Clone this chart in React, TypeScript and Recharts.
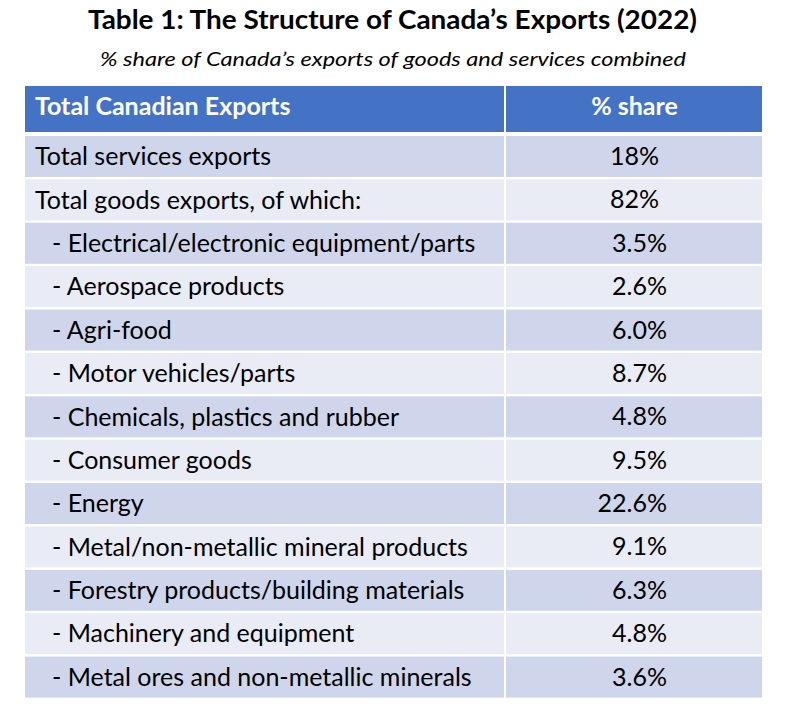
import { BarChart, Bar, XAxis, YAxis, LabelList } from "recharts";

const rowLabels = [
  "Total services exports",
  "Total goods exports, of which:",
  "- Electrical/electronic equipment/parts",
  "- Aerospace products",
  "- Agri-food",
  "- Motor vehicles/parts",
  "- Chemicals, plastics and rubber",
  "- Consumer goods",
  "- Energy",
  "- Metal/non-metallic mineral products",
  "- Forestry products/building materials",
  "- Machinery and equipment",
  "- Metal ores and non-metallic minerals"
];

const shares = [18, 82, 3.5, 2.6, 6.0, 8.7, 4.8, 9.5, 22.6, 9.1, 6.3, 4.8, 3.6];

const shareLabels = [
  "18%", "82%", "3.5%", "2.6%", "6.0%", "8.7%", "4.8%",
  "9.5%", "22.6%", "9.1%", "6.3%", "4.8%", "3.6%"
];

const data = rowLabels.map((label, i) => ({
  label,
  share: shares[i],
  shareLabel: shareLabels[i]
}));

const FONT = "Lato, 'Open Sans', sans-serif";
const HEAD = "#4472C4";
const ODD = "#CFD5EA";
const EVEN = "#E9EBF5";
const TABLE_LEFT = 25;

// row fill for both cells, the white gap at the plot's left edge is the column divider
const RowBackground = (p: any) => {
  const fill = p.index % 2 === 0 ? ODD : EVEN;
  const top = p.y + 1;
  const h = p.height - 2;
  return (
    <g>
      <rect x={TABLE_LEFT} y={top} width={p.x - 2 - TABLE_LEFT} height={h} fill={fill} />
      <rect x={p.x} y={top} width={p.width} height={h} fill={fill} />
    </g>
  );
};

const RowLabel = (p: any) => {
  const text: string = p.payload.value;
  return (
    <text
      x={text.startsWith("-") ? 52 : 35}
      y={p.y}
      dy={8.5}
      fontSize={25}
      fontFamily={FONT}
      fill="#000"
    >
      {text}
    </text>
  );
};

const ShareLabel = (p: any) => {
  const text = String(p.value);
  const hasDecimal = text.includes(".");
  return (
    <text
      x={hasDecimal ? 667 : 634.5}
      y={p.y + p.height / 2}
      dy={8.5}
      textAnchor={hasDecimal ? "end" : "middle"}
      fontSize={25}
      fontFamily={FONT}
      fill="#000"
    >
      {text}
    </text>
  );
};

export default function App() {
  return (
    <div style={{ position: "absolute", left: 0, top: 0, width: 788, height: 716, background: "#fff" }}>
      <svg
        width={788}
        height={135}
        style={{ position: "absolute", left: 0, top: 0 }}
      >
        <text
          x={392.5}
          y={29}
          textAnchor="middle"
          fontSize={26}
          fontWeight="bold"
          fontFamily={FONT}
          textLength={609}
          lengthAdjust="spacingAndGlyphs"
          fill="#000"
        >
          Table 1: The Structure of Canada’s Exports (2022)
        </text>
        <text
          x={393}
          y={66}
          textAnchor="middle"
          fontSize={19.5}
          fontStyle="italic"
          fontFamily={FONT}
          textLength={586}
          lengthAdjust="spacingAndGlyphs"
          fill="#000"
        >
          % share of Canada’s exports of goods and services combined
        </text>
        <rect x={TABLE_LEFT} y={86} width={479} height={46} fill={HEAD} />
        <rect x={506} y={86} width={256} height={46} fill={HEAD} />
        <text x={35} y={115} fontSize={25} fontWeight="bold" fontFamily={FONT} fill="#fff">
          Total Canadian Exports
        </text>
        <text x={634.5} y={115} textAnchor="middle" fontSize={25} fontWeight="bold" fontFamily={FONT} fill="#fff">
          % share
        </text>
      </svg>
      <BarChart
        width={788}
        height={716}
        data={data}
        layout="vertical"
        barCategoryGap={0}
        margin={{ top: 135, right: 26, bottom: 17, left: 0 }}
      >
        <XAxis type="number" domain={[0, 100]} hide />
        <Bar
          dataKey="share"
          fill="none"
          background={RowBackground}
          isAnimationActive={false}
        >
          <LabelList dataKey="shareLabel" content={ShareLabel} />
        </Bar>
        <YAxis
          type="category"
          dataKey="label"
          width={506}
          interval={0}
          axisLine={false}
          tickLine={false}
          tick={RowLabel}
        />
      </BarChart>
    </div>
  );
}
